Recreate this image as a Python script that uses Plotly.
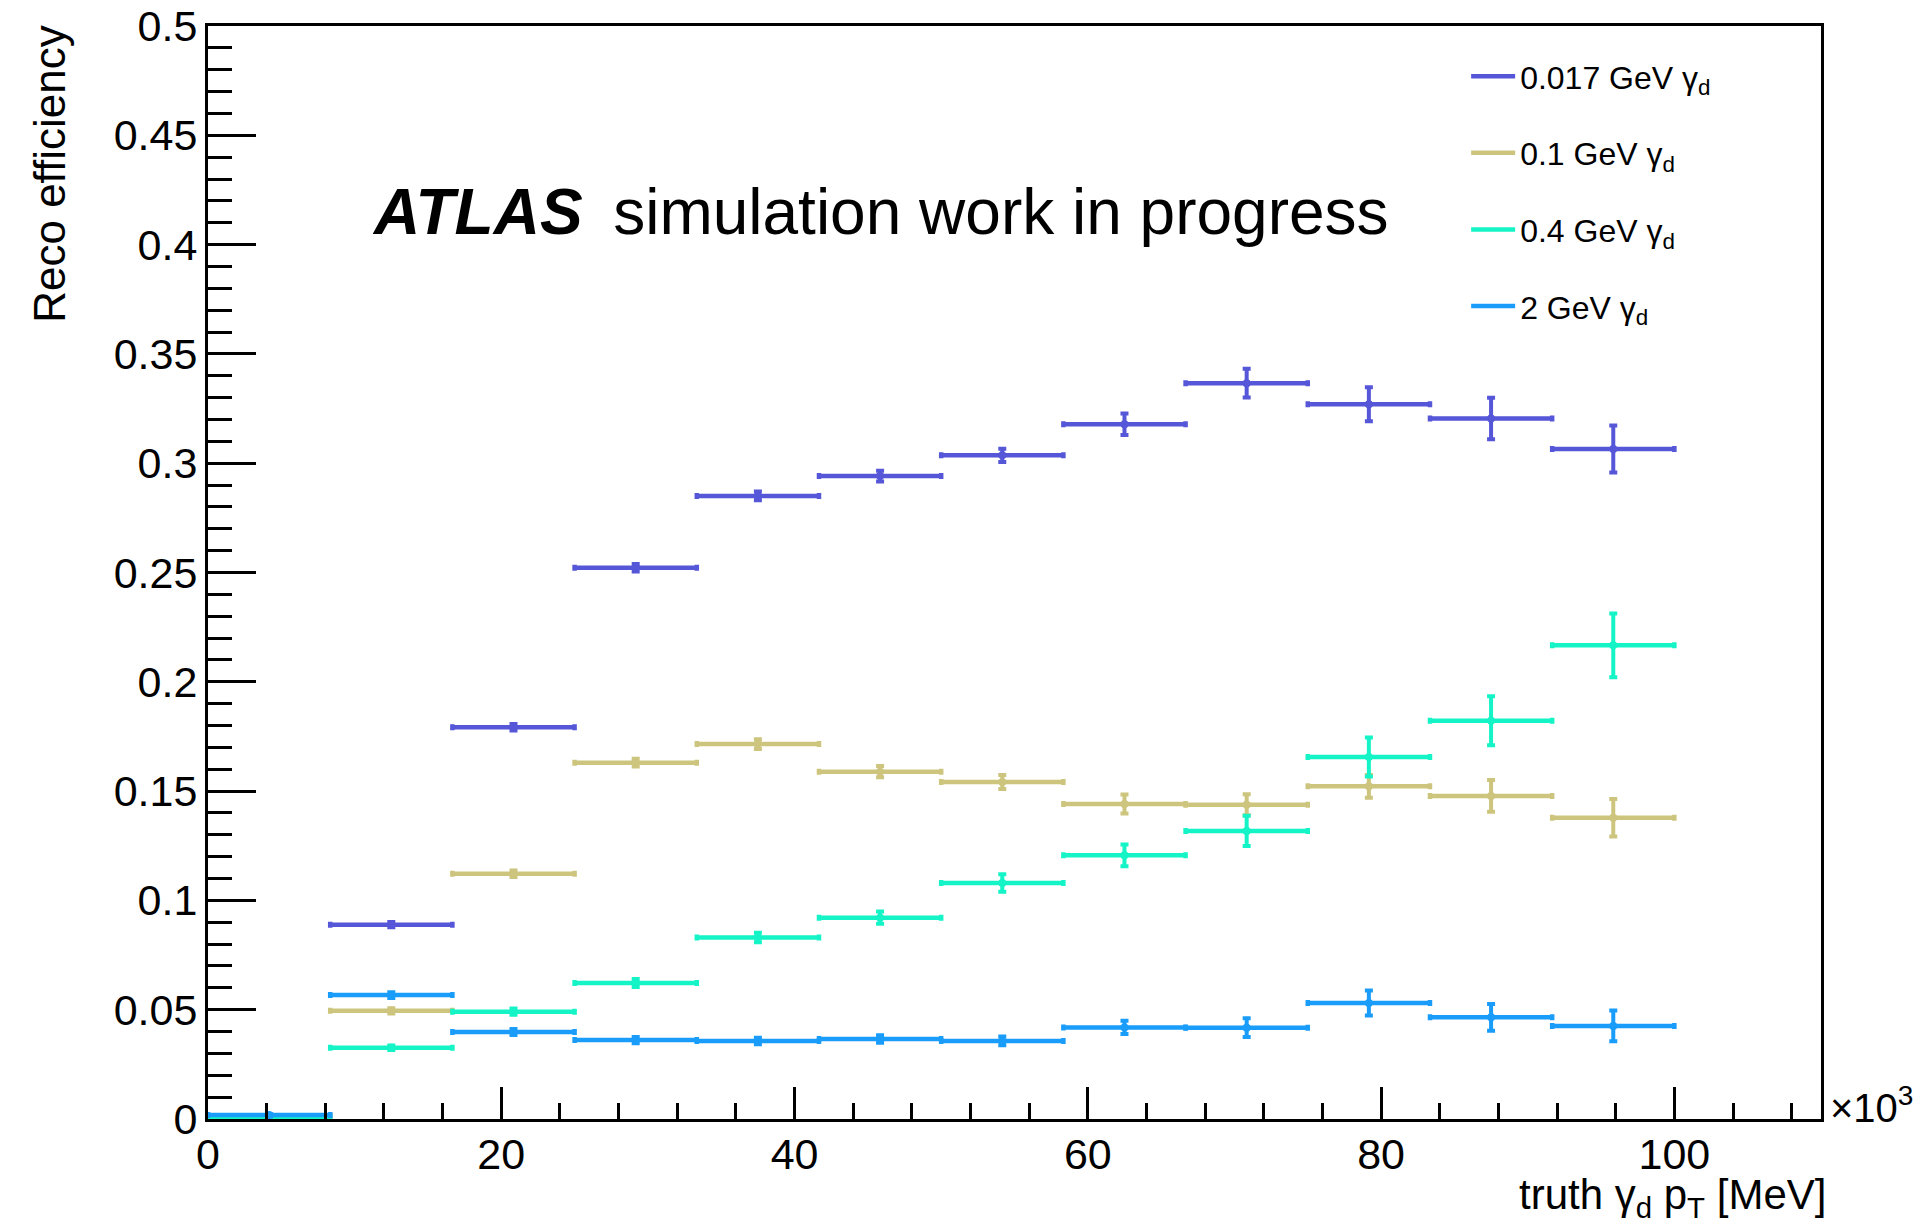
import numpy as np
import plotly.graph_objects as go

# Truth dark-photon pT binning (MeV), 12 bins from 0 to 100 GeV
bin_edges = [0, 8333.3, 16666.7, 25000, 33333.3, 41666.7, 50000,
             58333.3, 66666.7, 75000, 83333.3, 91666.7, 100000]

# Reconstruction efficiency per bin for each dark-photon mass
eff_0p017 = [0.0015, 0.0889, 0.1792, 0.2522, 0.2850, 0.2941, 0.3036,
             0.3178, 0.3366, 0.3270, 0.3204, 0.3065]
err_0p017 = [0.0005, 0.0012, 0.0015, 0.0017, 0.0020, 0.0025, 0.0030,
             0.0049, 0.0066, 0.0078, 0.0095, 0.0108]

eff_0p1 = [0.0015, 0.0495, 0.1122, 0.1630, 0.1715, 0.1589, 0.1542,
           0.1441, 0.1438, 0.1522, 0.1478, 0.1378]
err_0p1 = [0.0005, 0.0012, 0.0015, 0.0018, 0.0022, 0.0026, 0.0032,
           0.0044, 0.0048, 0.0052, 0.0073, 0.0086]

eff_0p4 = [0.0010, 0.0326, 0.0491, 0.0622, 0.0830, 0.0921, 0.1080,
           0.1206, 0.1318, 0.1656, 0.1822, 0.2167]
err_0p4 = [0.0005, 0.0010, 0.0014, 0.0018, 0.0022, 0.0028, 0.0040,
           0.0050, 0.0069, 0.0089, 0.0112, 0.0146]

eff_2 = [0.0018, 0.0567, 0.0398, 0.0361, 0.0357, 0.0366, 0.0357,
         0.0419, 0.0418, 0.0531, 0.0465, 0.0426]
err_2 = [0.0005, 0.0013, 0.0014, 0.0014, 0.0015, 0.0017, 0.0020,
         0.0030, 0.0043, 0.0057, 0.0061, 0.0070]

series_labels = ["0.017 GeV γ<sub>d</sub>", "0.1 GeV γ<sub>d</sub>",
                 "0.4 GeV γ<sub>d</sub>", "2 GeV γ<sub>d</sub>"]
series_colors = ["#5656d8", "#cdc57e", "#14f4c6", "#1a9cfa"]

x_tick_vals = [0, 20000, 40000, 60000, 80000, 100000]
x_tick_text = ["0", "20", "40", "60", "80", "100"]

edges = np.array(bin_edges)
centers = 0.5 * (edges[:-1] + edges[1:])
half_widths = 0.5 * (edges[1:] - edges[:-1])

FONT = "Liberation Sans, Arial, Helvetica, sans-serif"

fig = go.Figure()

all_eff = [eff_0p017, eff_0p1, eff_0p4, eff_2]
all_err = [err_0p017, err_0p1, err_0p4, err_2]

for i, (eff, err, label, color) in enumerate(zip(all_eff, all_err, series_labels, series_colors)):
    # binned efficiency points with bin-width and statistical error bars
    fig.add_trace(go.Scatter(
        x=centers, y=eff, mode="markers", showlegend=False,
        marker=dict(color=color, size=8, symbol="circle"),
        error_x=dict(type="data", array=half_widths, color=color, thickness=4.5, width=3),
        error_y=dict(type="data", array=err, color=color, thickness=4, width=4),
    ))
    # legend entry drawn as a line sample
    fig.add_trace(go.Scatter(
        x=[None], y=[None], mode="lines", name=label,
        line=dict(color=color, width=4.5), legendgroup=f"g{i}",
    ))

fig.update_layout(
    width=1917, height=1225,
    margin=dict(l=208, r=96, t=26, b=106, autoexpand=False),
    paper_bgcolor="white", plot_bgcolor="white",
    font=dict(family=FONT, color="black", size=40),
    legend=dict(
        x=0.780, y=0.979, xanchor="left", yanchor="top",
        font=dict(family=FONT, size=32, color="black"),
        bgcolor="rgba(0,0,0,0)", borderwidth=0,
        tracegroupgap=32, itemwidth=44,
    ),
    xaxis=dict(
        range=[0, 110000], showgrid=False, zeroline=False, automargin=False,
        showline=True, linecolor="black", linewidth=3, mirror=True,
        tickvals=x_tick_vals, ticktext=x_tick_text,
        ticks="inside", ticklen=32, tickwidth=2.5, tickcolor="black",
        tickfont=dict(family=FONT, size=43, color="black"),
        ticklabelstandoff=-5,
        minor=dict(dtick=4000, tick0=0, ticks="inside", ticklen=16,
                   tickwidth=2.5, tickcolor="black", showgrid=False),
    ),
    yaxis=dict(
        range=[0, 0.5], showgrid=False, zeroline=False, automargin=False,
        showline=True, linecolor="black", linewidth=3, mirror=True,
        dtick=0.05, tick0=0,
        ticks="inside", ticklen=48, tickwidth=2.5, tickcolor="black",
        tickfont=dict(family=FONT, size=43, color="black"),
        ticklabelstandoff=-1,
        minor=dict(dtick=0.01, tick0=0, ticks="inside", ticklen=24,
                   tickwidth=2.5, tickcolor="black", showgrid=False),
    ),
)

annotations = [
    # experiment label
    dict(text="<b><i>ATLAS</i></b> \u2009simulation work in progress",
         xref="paper", yref="paper", x=0.1004, y=0.830,
         xanchor="left", yanchor="middle", showarrow=False,
         font=dict(family=FONT, size=64, color="black")),
    # y-axis title, aligned with the top of the axis
    dict(text="Reco efficiency", textangle=-90,
         xref="paper", yref="paper", x=-0.0987, y=1.0, yshift=3,
         xanchor="center", yanchor="top", showarrow=False,
         font=dict(family=FONT, size=44, color="black")),
    # x-axis title, aligned with the right end of the axis
    dict(text="truth γ<sub>d</sub> p<sub>T</sub> [MeV]",
         xref="paper", yref="paper", x=1.0045, y=-0.0715,
         xanchor="right", yanchor="middle", showarrow=False,
         font=dict(family=FONT, size=42, color="black")),
    # axis multiplier
    dict(text="×10<sup>3</sup>",
         xref="paper", yref="paper", x=1.0045, y=0.0124,
         xanchor="left", yanchor="middle", showarrow=False,
         font=dict(family=FONT, size=40, color="black")),
]
fig.update_layout(annotations=annotations)

fig.write_html("out.html")
